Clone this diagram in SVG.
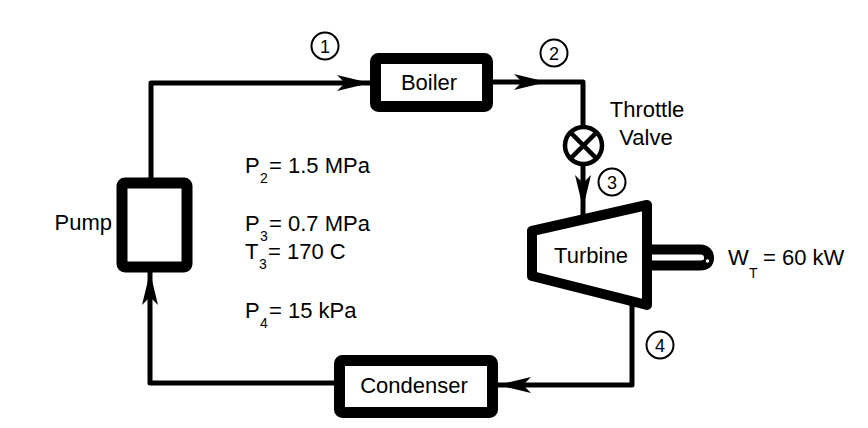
<svg xmlns="http://www.w3.org/2000/svg" xmlns:xlink="http://www.w3.org/1999/xlink" width="868" height="428" viewBox="0 0 868 428">
<style>
.t{font-family:"Liberation Sans",Arial,sans-serif;font-size:22px;fill:#000}
.s{font-size:14px}
.n{font-family:"Liberation Sans",Arial,sans-serif;font-size:18px;fill:#000;text-anchor:middle}
.box{fill:#fff;stroke:#000;stroke-width:11;stroke-linejoin:round}
.line{fill:none;stroke:#000;stroke-width:5;stroke-linejoin:round;stroke-linecap:butt}
.num{fill:#fff;stroke:#000;stroke-width:2}
</style>
<defs>
<path id="ah" d="M0,0 L-33,-8 L-25,0 L-33,8 Z" fill="#000"/>
</defs>
<rect width="868" height="428" fill="#fff"/>
<g id="connectors">
<path class="line" d="M151,178 V83 H370"/>
<path class="line" d="M493,82 H583 V126"/>
<path class="line" d="M583,164 V218"/>
<path class="line" d="M632,300 V385 H498"/>
<path class="line" d="M334,383 H150 V272"/>
<use xlink:href="#ah" transform="translate(370,83)"/>
<use xlink:href="#ah" transform="translate(547,82)"/>
<use xlink:href="#ah" transform="translate(583,208) rotate(90)"/>
<use xlink:href="#ah" transform="translate(498,385) rotate(180)"/>
<use xlink:href="#ah" transform="translate(150,272) rotate(-90)"/>
</g>
<g id="boiler">
<rect class="box" x="375.5" y="58.5" width="112" height="48" rx="3"/>
<text class="t" x="429" y="90" text-anchor="middle">Boiler</text>
</g>
<g id="pump">
<rect class="box" x="122" y="183" width="65" height="84" rx="3" stroke-width="10"/>
<text class="t" x="112" y="230" text-anchor="end">Pump</text>
</g>
<g id="condenser">
<rect class="box" x="339.5" y="360.5" width="153" height="52" rx="3"/>
<text class="t" x="414" y="393" text-anchor="middle">Condenser</text>
</g>
<g id="valve">
<circle cx="583.5" cy="145.5" r="18.5" fill="#fff" stroke="#000" stroke-width="4.5"/>
<path d="M570.4,132.4 L596.6,158.6 M596.6,132.4 L570.4,158.6" stroke="#000" stroke-width="4.5"/>
<text class="t" x="647" y="117" text-anchor="middle">Throttle</text>
<text class="t" x="646" y="145" text-anchor="middle">Valve</text>
</g>
<g id="turbine">
<path d="M650,249.5 H700 Q709,250 709,258 Q709,265.5 700,265.5 H650" fill="#fff" stroke="#000" stroke-width="10" stroke-linejoin="round"/>
<circle cx="707.5" cy="261" r="2.2" fill="#fff" stroke="#000" stroke-width="1"/>
<path d="M532,231 L647,205 L647,305 L532,276 Z" fill="#fff" stroke="#000" stroke-width="10" stroke-linejoin="round"/>
<text class="t" x="591" y="263" text-anchor="middle">Turbine</text>
<text class="t" x="728" y="265">W<tspan class="s" x="749" dy="13">T</tspan><tspan x="763" dy="-13">= 60 kW</tspan></text>
</g>
<g id="states">
<text class="t" x="245" y="173">P<tspan class="s" x="260" dy="10">2</tspan><tspan x="269" dy="-10">= 1.5 MPa</tspan></text>
<text class="t" x="245" y="231">P<tspan class="s" x="260" dy="10">3</tspan><tspan x="269" dy="-10">= 0.7 MPa</tspan></text>
<text class="t" x="245" y="259">T<tspan class="s" x="259" dy="10">3</tspan><tspan x="268" dy="-10">= 170 C</tspan></text>
<text class="t" x="245" y="318">P<tspan class="s" x="260" dy="10">4</tspan><tspan x="269" dy="-10">= 15 kPa</tspan></text>
</g>
<g id="n1"><circle class="num" cx="325" cy="46" r="13.5"/><text class="n" x="325" y="52.5">1</text></g>
<g id="n2"><circle class="num" cx="554" cy="53" r="13.5"/><text class="n" x="554" y="59.5">2</text></g>
<g id="n3"><circle class="num" cx="612" cy="182" r="13.5"/><text class="n" x="612" y="188.5">3</text></g>
<g id="n4"><circle class="num" cx="660" cy="345" r="13.5"/><text class="n" x="660" y="351.5">4</text></g>
</svg>
